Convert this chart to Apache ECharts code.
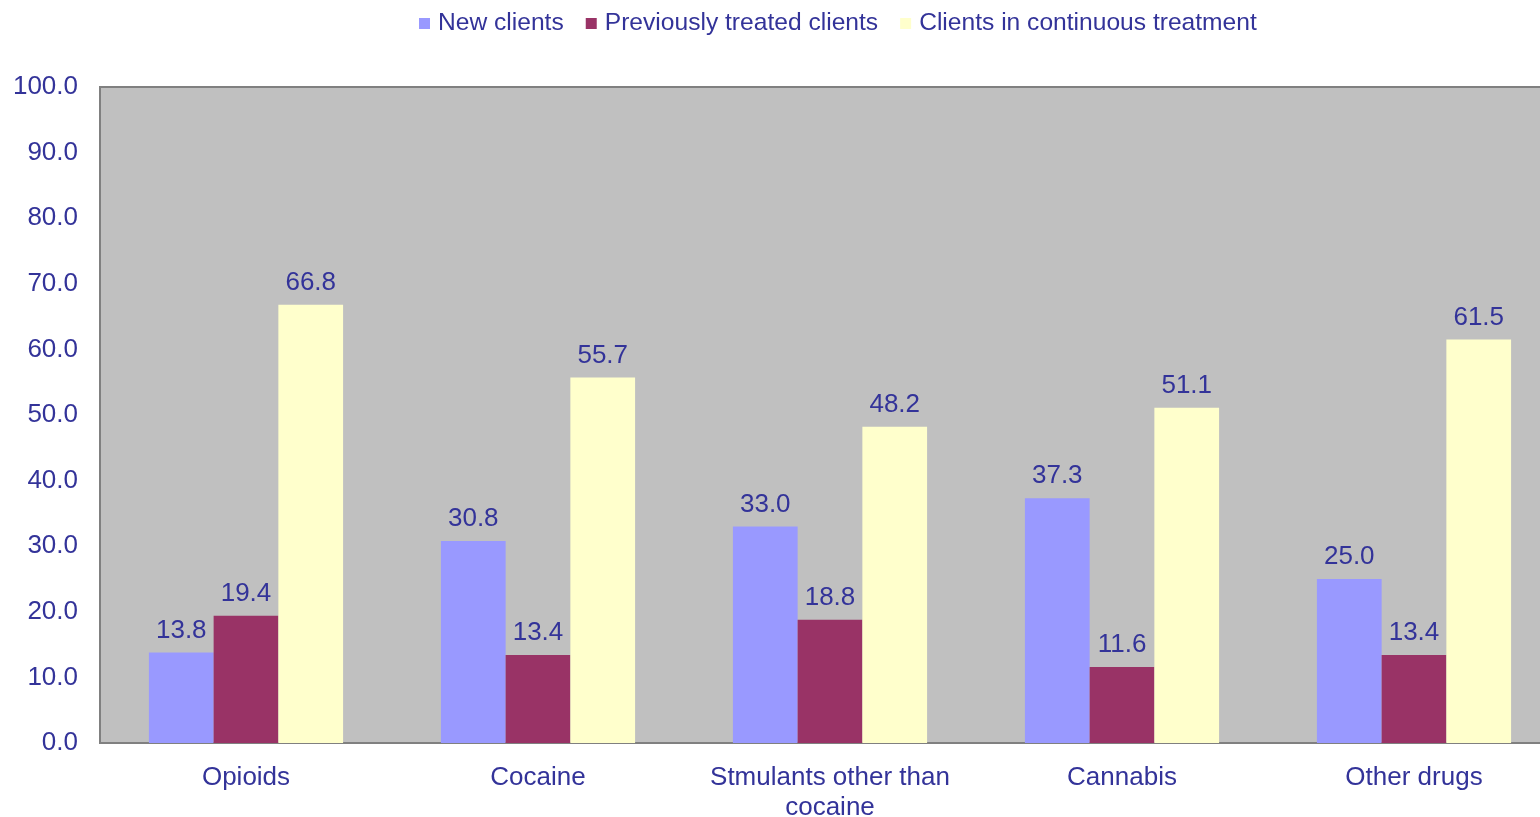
<!DOCTYPE html>
<html>
<head>
<meta charset="utf-8">
<script src="https://cdn.jsdelivr.net/npm/echarts@6/dist/echarts.min.js"></script>
<style>
html,body{margin:0;padding:0;background:#fff;}
#chart{width:1540px;height:817px;}
</style>
</head>
<body>
<div id="chart"></div>
<script>
const categories = ['Opioids', 'Cocaine', 'Stmulants other than\ncocaine', 'Cannabis', 'Other drugs'];
const newClients = [13.8, 30.8, 33.0, 37.3, 25.0];
const previouslyTreated = [19.4, 13.4, 18.8, 11.6, 13.4];
const continuousTreatment = [66.8, 55.7, 48.2, 51.1, 61.5];
const seriesNames = ['New clients', 'Previously treated clients', 'Clients in continuous treatment'];

const textColor = '#333399';
const font = 'Liberation Sans, Arial, sans-serif';
const labelStyle = {
  show: true, position: 'top', distance: 9,
  color: textColor, fontSize: 26, fontFamily: font,
  formatter: p => p.value.toFixed(1)
};
function bar(name, data, color) {
  return {
    name, type: 'bar', data, barGap: '0%', barCategoryGap: '33.5%',
    itemStyle: { color }, label: labelStyle
  };
}
const chart = echarts.init(document.getElementById('chart'));
chart.setOption({
  animation: false,
  legend: {
    top: 6, left: 414, itemWidth: 11, itemHeight: 11, itemGap: 22, icon: 'rect',
    textStyle: { color: textColor, fontSize: 24.6, fontFamily: font, padding: [0, 0, 0, 3] },
    data: seriesNames
  },
  grid: {
    left: 100, top: 87, width: 1460, height: 656, show: true,
    outerBoundsMode: 'none', containLabel: false,
    backgroundColor: '#C0C0C0', borderColor: '#808080', borderWidth: 2
  },
  xAxis: {
    type: 'category', data: categories,
    axisLine: { lineStyle: { color: '#808080', width: 2 } },
    axisTick: { show: false },
    axisLabel: { color: textColor, fontSize: 26, fontFamily: font, margin: 20, lineHeight: 30, interval: 0 }
  },
  yAxis: {
    type: 'value', min: 0, max: 100, interval: 10,
    splitLine: { show: false },
    axisLine: { show: true, lineStyle: { color: '#808080', width: 2 } },
    axisTick: { show: false },
    axisLabel: { color: textColor, fontSize: 26, fontFamily: font, margin: 22, padding: [4, 0, 0, 0], formatter: v => v.toFixed(1) }
  },
  series: [
    bar(seriesNames[0], newClients, '#9999FF'),
    bar(seriesNames[1], previouslyTreated, '#993366'),
    bar(seriesNames[2], continuousTreatment, '#FFFFCC')
  ]
});
</script>
</body>
</html>
